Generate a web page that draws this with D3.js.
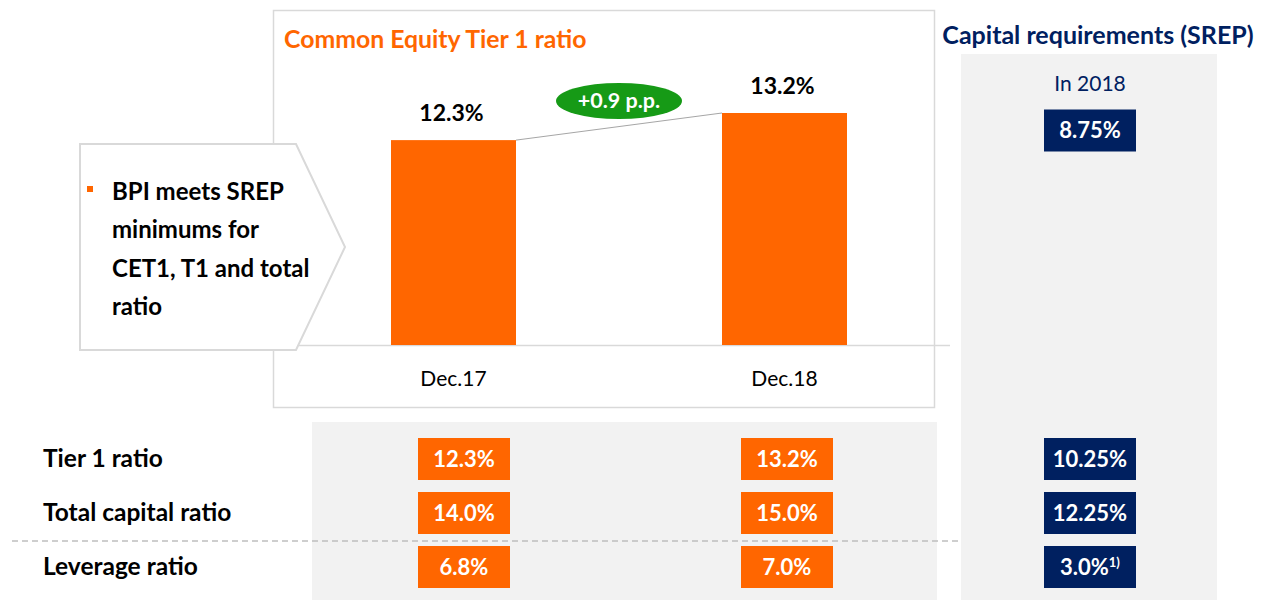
<!DOCTYPE html>
<html><head><meta charset="utf-8">
<script src="https://cdn.jsdelivr.net/npm/d3@7"></script>
<style>body{margin:0;background:#fff}svg{display:block}text{font-family:Lato,"Open Sans",sans-serif}</style>
</head><body><svg id="c" width="1263" height="600"></svg>
<script>
const categories = ["Dec.17", "Dec.18"];
const cet1 = [12.3, 13.2];
const changeLabel = "+0.9 p.p.";
const rowLabels = ["Tier 1 ratio", "Total capital ratio", "Leverage ratio"];
const tier1 = [12.3, 13.2];
const totalCapital = [14.0, 15.0];
const leverage = [6.8, 7.0];
const srepCet1 = 8.75;
const srepRows = [10.25, 12.25, 3.0];
const srepNotes = ["", "", "1)"];
const calloutLines = ["BPI meets SREP", "minimums for", "CET1, T1 and total", "ratio"];

const ORANGE = "#ff6600", NAVY = "#002060", GRAY = "#f2f2f2", LINE = "#d9d9d9";
const svg = d3.select("#c");
const fmt1 = d => d.toFixed(1) + "%";
const fmt2 = d => d.toFixed(2) + "%";

// backgrounds
svg.append("rect").attr("x", 961).attr("y", 54).attr("width", 256).attr("height", 546).attr("fill", GRAY);
svg.append("rect").attr("x", 312).attr("y", 422).attr("width", 625).attr("height", 178).attr("fill", GRAY);

// main chart box
svg.append("rect").attr("x", 273.5).attr("y", 10.5).attr("width", 661).attr("height", 397)
  .attr("fill", "#fff").attr("stroke", LINE).attr("stroke-width", 1.5);

svg.append("text").attr("x", 284).attr("y", 48).attr("fill", ORANGE)
  .attr("font-weight", 700).attr("font-size", 24.8).text("Common Equity Tier 1 ratio");

// scales
const x = d3.scalePoint().domain(categories).range([453.5, 784.5]);
const y = d3.scaleLinear().domain([5.5, 13.2]).range([345, 113]);
const barW = 125;

// baseline
svg.append("line").attr("x1", 273).attr("x2", 950).attr("y1", 345.5).attr("y2", 345.5)
  .attr("stroke", LINE).attr("stroke-width", 1.5);

// connector line
svg.append("line")
  .attr("x1", x(categories[0]) + barW / 2).attr("y1", y(cet1[0]))
  .attr("x2", x(categories[1]) - barW / 2).attr("y2", y(cet1[1]))
  .attr("stroke", "#a6a6a6").attr("stroke-width", 1);

svg.selectAll(".bar").data(categories).join("rect")
  .attr("x", d => x(d) - barW / 2).attr("width", barW)
  .attr("y", (d, i) => y(cet1[i])).attr("height", (d, i) => y.range()[0] - y(cet1[i]))
  .attr("fill", ORANGE);

svg.selectAll(".vlab").data(categories).join("text")
  .attr("x", d => x(d) - 2).attr("y", (d, i) => y(cet1[i]) - 19)
  .attr("text-anchor", "middle").attr("font-weight", 700).attr("font-size", 23).attr("fill", "#000")
  .text((d, i) => fmt1(cet1[i]));

svg.selectAll(".clab").data(categories).join("text")
  .attr("x", d => x(d)).attr("y", 386)
  .attr("text-anchor", "middle").attr("font-size", 21).attr("fill", "#000").text(d => d);

// change ellipse
const ex = (x(categories[0]) + x(categories[1])) / 2, ey = 101;
svg.append("ellipse").attr("cx", ex).attr("cy", ey).attr("rx", 63).attr("ry", 18).attr("fill", "#169a16");
svg.append("text").attr("x", ex).attr("y", ey + 7).attr("text-anchor", "middle")
  .attr("fill", "#fff").attr("font-weight", 700).attr("font-size", 21.5).text(changeLabel);

// callout
svg.append("path").attr("d", "M80,144 L296,144 L345,247 L296,350 L80,350 Z")
  .attr("fill", "#fff").attr("stroke", LINE).attr("stroke-width", 2);
svg.append("rect").attr("x", 87).attr("y", 186).attr("width", 6).attr("height", 6).attr("fill", ORANGE);
svg.selectAll(".cl").data(calloutLines).join("text")
  .attr("x", 112).attr("y", (d, i) => 200 + i * 38.3)
  .attr("font-weight", 700).attr("font-size", 24).attr("fill", "#000").text(d => d);

// right panel
svg.append("text").attr("x", 1098).attr("y", 44).attr("text-anchor", "middle")
  .attr("fill", NAVY).attr("font-weight", 700).attr("font-size", 25).text("Capital requirements (SREP)");
svg.append("text").attr("x", 1090).attr("y", 91).attr("text-anchor", "middle")
  .attr("fill", NAVY).attr("font-size", 21).text("In 2018");

const boxW = 92, boxH = 42;
function valBox(cx, cy, fill, label, note) {
  svg.append("rect").attr("x", cx - boxW / 2).attr("y", cy - boxH / 2).attr("width", boxW).attr("height", boxH).attr("fill", fill);
  const t = svg.append("text").attr("x", cx).attr("y", cy + 7.5).attr("text-anchor", "middle")
    .attr("fill", "#fff").attr("font-weight", 700).attr("font-size", 22);
  t.append("tspan").text(label);
  if (note) t.append("tspan").attr("font-size", 13).attr("dy", -8).text(note);
}
valBox(1090, 130.5, NAVY, fmt2(srepCet1));

// table
const colX = d3.scaleOrdinal().domain([...categories, "SREP"]).range([464, 787, 1090]);
const rowY = d3.scalePoint().domain(rowLabels).range([459, 567]);
const rowVals = [tier1, totalCapital, leverage];

svg.append("line").attr("x1", 12).attr("x2", 960).attr("y1", 541).attr("y2", 541)
  .attr("stroke", "#bfbfbf").attr("stroke-width", 1.5).attr("stroke-dasharray", "6,4");

svg.selectAll(".rl").data(rowLabels).join("text")
  .attr("x", 43).attr("y", d => rowY(d) + 8)
  .attr("font-weight", 700).attr("font-size", 24.5).attr("fill", "#000").text(d => d);

rowLabels.forEach((r, ri) => {
  categories.forEach((c, ci) => valBox(colX(c), rowY(r), ORANGE, fmt1(rowVals[ri][ci])));
  const v = srepRows[ri];
  valBox(colX("SREP"), rowY(r), NAVY, Number.isInteger(v) ? fmt1(v) : fmt2(v), srepNotes[ri]);
});
</script></body></html>
